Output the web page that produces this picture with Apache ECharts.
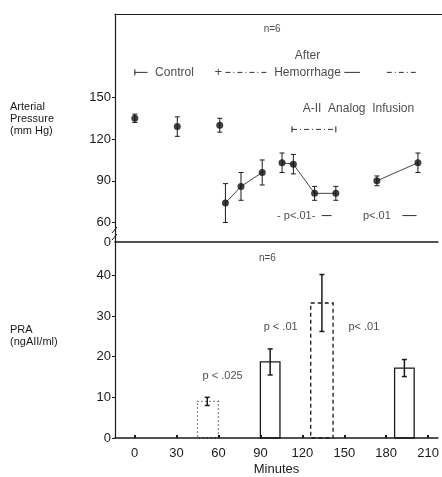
<!DOCTYPE html>
<html><head><meta charset="utf-8">
<script src="https://cdn.jsdelivr.net/npm/echarts@6/dist/echarts.min.js"></script>
<style>html,body{margin:0;padding:0;background:#fff}#c{width:442px;height:477px}</style>
</head><body><div id="c"></div>
<script>
// ---- Top panel: arterial pressure ----
const minutes = [0, 30, 60, 64, 75, 90, 104, 112, 127, 142, 171, 200];
const pressure = [135, 129, 130, 74, 86, 96, 103, 102, 81, 81, 90, 103];
const pressureErr = [3, 7, 5, 14, 10, 9, 7, 7, 5, 5, 3.5, 7];
const breakAfter = [0, 1, 2, 5, 9];            // indices after which the line is not joined
const pressureTicks = [60, 90, 120, 150];
const pressureZeroAt = 46;                      // broken axis: bottom of top panel is labelled 0

// period brackets in top panel [start, end, level]
const periodStart = [0, 64, 148, 178, 111, 132, 189];
const periodEnd   = [9, 94, 159, 199, 142, 139, 199];
const periodLevel = [168, 168, 168, 168, 127, 65, 65];
const periodKind  = ['solid', 'dashdot', 'solid', 'dashdot', 'dashdot', 'solid', 'solid'];

const topNoteText = ['n=6', 'After', 'Control', '+', 'Hemorrhage', 'A-II  Analog  Infusion', '- p<.01-', 'p<.01'];
const topNoteX    = [97, 122, 28, 59, 122, 158, 114, 171];
const topNoteY    = [199, 180, 168, 168, 168, 142, 65, 65];

// ---- Bottom panel: PRA ----
const barStart = [45, 90, 126, 186];
const barEnd   = [60, 104, 142, 200];
const praMean  = [9, 18.7, 33.2, 17.2];
const praErr   = [1, 3.2, 7, 2.1];
const praErrX  = [52, 97, 134, 193];
const barLine  = ['dotted', 'solid', 'dashed', 'solid'];
const praTicks = [0, 10, 20, 30, 40];
const timeTicks = [0, 30, 60, 90, 120, 150, 180, 210];

const botNoteText = ['n=6', 'p < .025', 'p < .01', 'p< .01'];
const botNoteX    = [95, 63, 104.5, 164];
const botNoteY    = [44.3, 15.3, 27.4, 27.4];

const FONT = '"Liberation Sans", Arial, sans-serif';
const INK = '#1a1a1a';
const XMIN = -14, XMAX = 217;

// line data with gaps
const lineData = [];
minutes.forEach((m, i) => {
  lineData.push([m, pressure[i]]);
  if (breakAfter.includes(i)) lineData.push([m, null]);
});

function errRender(capHalf, lw) {
  return function (params, api) {
    const x = api.value(0), y = api.value(1), e = api.value(2);
    const t = api.coord([x, y + e]), b = api.coord([x, y - e]);
    const st = { stroke: INK, lineWidth: lw };
    return { type: 'group', children: [
      { type: 'line', shape: { x1: t[0], y1: t[1], x2: b[0], y2: b[1] }, style: st },
      { type: 'line', shape: { x1: t[0] - capHalf, y1: t[1], x2: t[0] + capHalf, y2: t[1] }, style: st },
      { type: 'line', shape: { x1: b[0] - capHalf, y1: b[1], x2: b[0] + capHalf, y2: b[1] }, style: st }
    ]};
  };
}
const dashMap = { solid: null, dashdot: [5, 3, 1, 3], dashed: [4, 3], dotted: [1, 3] };

function periodRender(params, api) {
  const i = params.dataIndex;
  const a = api.coord([api.value(0), api.value(2)]);
  const b = api.coord([api.value(1), api.value(2)]);
  const kind = periodKind[i];
  const st = { stroke: INK, lineWidth: 0.9, lineDash: dashMap[kind] };
  const ch = [{ type: 'line', shape: { x1: a[0], y1: a[1], x2: b[0], y2: b[1] }, style: st }];
  if (i === 0 || i === 4) ch.push({ type: 'line', shape: { x1: a[0], y1: a[1] - 3, x2: a[0], y2: a[1] + 3 }, style: { stroke: INK, lineWidth: 1 } });
  if (i === 4) ch.push({ type: 'line', shape: { x1: b[0], y1: b[1] - 3, x2: b[0], y2: b[1] + 3 }, style: { stroke: INK, lineWidth: 1 } });
  return { type: 'group', children: ch };
}

function barRender(params, api) {
  const i = params.dataIndex;
  const p0 = api.coord([api.value(0), api.value(2)]);
  const p1 = api.coord([api.value(1), 0]);
  return { type: 'rect',
    shape: { x: p0[0], y: p0[1], width: p1[0] - p0[0], height: p1[1] - p0[1] },
    style: { fill: 'transparent', stroke: INK, lineWidth: 1.3, lineDash: dashMap[barLine[i]] } };
}

const notes = (texts, xs, ys, size) => texts.map((t, i) => ({
  value: [xs[i], ys[i]],
  label: { show: true, formatter: t, position: 'inside', color: INK, fontFamily: FONT, fontSize: size[i] }
}));

const chart = echarts.init(document.getElementById('c'), null, { renderer: 'canvas' });
const axisText = { color: INK, fontFamily: FONT, fontSize: 13 };
const lineSt = (w) => ({ show: true, onZero: false, lineStyle: { color: INK, width: w } });

chart.setOption({
  animation: false,
  backgroundColor: '#fff',
  grid: [
    { left: 115, right: 0, top: 14, height: 228 },
    { left: 115, right: 0, top: 242, height: 199 }
  ],
  xAxis: [
    { gridIndex: 0, type: 'value', min: XMIN, max: XMAX, position: 'top',
      axisLine: lineSt(1.2), axisTick: { show: false },
      axisLabel: { show: false }, splitLine: { show: false } },
    { gridIndex: 1, type: 'value', min: XMIN, max: XMAX, position: 'top',
      axisLine: lineSt(1.5), axisTick: { show: false },
      axisLabel: { show: false }, splitLine: { show: false } },
    { gridIndex: 1, type: 'value', min: XMIN, max: XMAX, position: 'bottom',
      axisLine: lineSt(1.5),
      axisTick: { show: true, inside: true, length: 3, customValues: timeTicks, lineStyle: { color: INK, width: 2 } },
      axisLabel: Object.assign({ customValues: timeTicks, margin: 9 }, axisText),
      splitLine: { show: false },
      name: 'Minutes', nameLocation: 'middle', nameGap: 25,
      nameTextStyle: { color: INK, fontFamily: FONT, fontSize: 13 } }
  ],
  yAxis: [
    { gridIndex: 0, type: 'value', min: pressureZeroAt, max: 210, position: 'left',
      axisLine: lineSt(1.2),
      axisTick: { show: true, length: 3, customValues: pressureTicks, lineStyle: { color: INK } },
      axisLabel: Object.assign({ customValues: [pressureZeroAt].concat(pressureTicks), margin: 4,
        formatter: v => (v === pressureZeroAt ? '0' : String(v)) }, axisText),
      splitLine: { show: false } },
    { gridIndex: 1, type: 'value', min: 0, max: 48.2, position: 'left',
      axisLine: lineSt(1.2),
      axisTick: { show: true, length: 3, customValues: praTicks, lineStyle: { color: INK } },
      axisLabel: Object.assign({ customValues: praTicks, margin: 4 }, axisText),
      splitLine: { show: false } }
  ],
  series: [
    { type: 'line', xAxisIndex: 0, yAxisIndex: 0, data: lineData, connectNulls: false,
      symbol: 'none', lineStyle: { color: '#333', width: 0.9 }, z: 2 },
    { type: 'custom', xAxisIndex: 0, yAxisIndex: 0, renderItem: errRender(2.5, 1),
      data: minutes.map((m, i) => [m, pressure[i], pressureErr[i]]), z: 3 },
    { type: 'scatter', xAxisIndex: 0, yAxisIndex: 0, symbol: 'circle', symbolSize: 7,
      itemStyle: { color: '#111' }, data: minutes.map((m, i) => [m, pressure[i]]), z: 4 },
    { type: 'custom', xAxisIndex: 0, yAxisIndex: 0, renderItem: periodRender,
      data: periodStart.map((s, i) => [s, periodEnd[i], periodLevel[i]]), z: 3 },
    { type: 'scatter', xAxisIndex: 0, yAxisIndex: 0, symbolSize: 0, z: 5,
      data: notes(topNoteText, topNoteX, topNoteY, [10, 12, 12, 13, 12, 12, 11, 11]) },
    // bottom
    { type: 'custom', xAxisIndex: 2, yAxisIndex: 1, renderItem: barRender,
      data: barStart.map((s, i) => [s, barEnd[i], praMean[i]]), z: 2 },
    { type: 'custom', xAxisIndex: 2, yAxisIndex: 1, renderItem: errRender(2.5, 1.5),
      data: praErrX.map((x, i) => [x, praMean[i], praErr[i]]), z: 3 },
    { type: 'scatter', xAxisIndex: 2, yAxisIndex: 1, symbolSize: 0, z: 5,
      data: notes(botNoteText, botNoteX, botNoteY, [10, 11, 11, 11]) }
  ],
  graphic: [
    { type: 'text', left: 10, top: 101, style: { text: 'Arterial\nPressure\n(mm Hg)', fill: INK, font: '11px ' + FONT, lineHeight: 12 } },
    { type: 'text', left: 10, top: 324, style: { text: 'PRA\n(ngAII/ml)', fill: INK, font: '11px ' + FONT, lineHeight: 12 } },
    { type: 'line', shape: { x1: 112, y1: 233, x2: 117, y2: 227 }, style: { stroke: INK, lineWidth: 1 } },
    { type: 'line', shape: { x1: 112, y1: 240, x2: 117, y2: 234 }, style: { stroke: INK, lineWidth: 1 } }
  ]
});
</script></body></html>
